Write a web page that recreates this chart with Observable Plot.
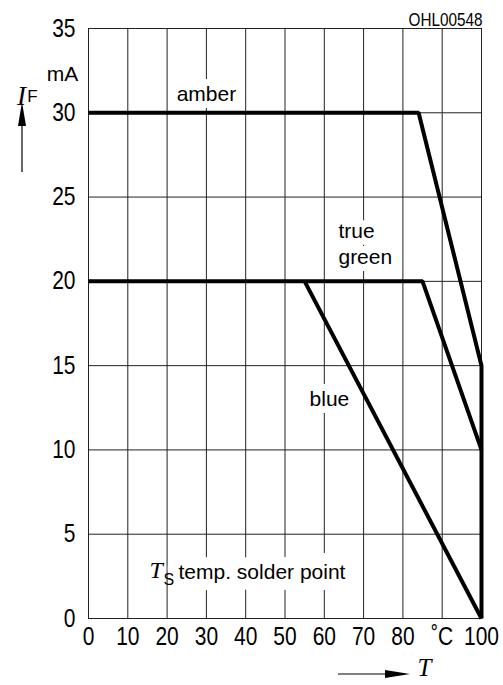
<!DOCTYPE html>
<html>
<head>
<meta charset="utf-8">
<script src="https://cdn.jsdelivr.net/npm/d3@7"></script>
<script src="https://cdn.jsdelivr.net/npm/@observablehq/plot@0.6"></script>
<style>
  html, body { margin: 0; padding: 0; background: #fff; }
  #chart { position: relative; width: 503px; height: 685px; }
</style>
</head>
<body>
<div id="chart"></div>
<script>
// ---- data ----
const xTicks = [0, 10, 20, 30, 40, 50, 60, 70, 80, 90, 100];
const yTicks = [0, 5, 10, 15, 20, 25, 30, 35];
const amberT = [0, 84, 100, 100];
const amberI = [30, 30, 15, 0];
const greenT = [0, 85, 100];
const greenI = [20, 20, 10];
const blueT = [55, 100];
const blueI = [20, 0];
const labelNames = ["amber", "true\ngreen", "blue"];
const labelT = [30, 63.6, 61.3];
const labelI = [31.1, 22.3, 13.0];
const labelAnchor = ["middle", "start", "middle"];

const FONT = "'Liberation Sans', Arial, sans-serif";
const SERIF = "'Liberation Serif', 'Times New Roman', serif";

const toRows = (xs, ys, name) => xs.map((x, i) => ({T: x, I: ys[i], series: name}));
const rows = [
  ...toRows(amberT, amberI, "amber"),
  ...toRows(greenT, greenI, "true green"),
  ...toRows(blueT, blueI, "blue")
];
const labels = labelNames.map((t, i) => ({text: t, T: labelT[i], I: labelI[i], anchor: labelAnchor[i]}));

const plot = Plot.plot({
  width: 503,
  height: 685,
  marginLeft: 88,
  marginRight: 22,
  marginTop: 28,
  marginBottom: 67,
  style: {fontFamily: FONT, fontSize: "21px", background: "#fff", color: "#000"},
  x: {domain: [0, 100], label: null},
  y: {domain: [0, 35], label: null},
  marks: [
    Plot.gridX(xTicks, {stroke: "#222", strokeOpacity: 1, strokeWidth: 1}),
    Plot.gridY(yTicks, {stroke: "#222", strokeOpacity: 1, strokeWidth: 1}),
    Plot.frame({stroke: "#222", strokeWidth: 1}),
    Plot.axisX(xTicks, {tickSize: 0, tickPadding: 9, tickFormat: d => d === 90 ? "˚C" : String(d), fontSize: 25, label: null}),
    Plot.axisY(yTicks, {tickSize: 0, tickPadding: 13, fontSize: 25, label: null}),
    // curve labels with white background (interrupting the grid)
    Plot.text(labels.filter(d => d.anchor === "middle"), {x: "T", y: "I", text: "text", textAnchor: "middle", fill: "#000", stroke: "#fff", strokeWidth: 14, fontSize: 21}),
    Plot.text(labels.filter(d => d.anchor === "start"), {x: "T", y: "I", text: "text", textAnchor: "start", lineHeight: 1.25, fill: "#000", stroke: "#fff", strokeWidth: 14, fontSize: 21}),
    // T_S temp. solder point
    Plot.text(["temp. solder point"], {frameAnchor: "bottom-left", dx: 90, dy: -40, textAnchor: "start", fill: "#000", stroke: "#fff", strokeWidth: 22, fontSize: 21}),
    Plot.text(["T"], {frameAnchor: "bottom-left", dx: 61, dy: -41, textAnchor: "start", fontFamily: SERIF, fontStyle: "italic", fontSize: 24, fill: "#000"}),
    Plot.text(["S"], {frameAnchor: "bottom-left", dx: 75, dy: -34, textAnchor: "start", fontSize: 16, fill: "#000"}),
    // curves
    Plot.line(rows, {x: "T", y: "I", z: "series", stroke: "#000", strokeWidth: 4, strokeLinejoin: "miter", strokeLinecap: "butt"}),
    // axis annotation texts
    Plot.text(["mA"], {frameAnchor: "top-left", dx: -26, dy: 38, textAnchor: "middle", fontSize: 21, fill: "#000"}),
    Plot.text(["I"], {frameAnchor: "top-left", dx: -67, dy: 57, textAnchor: "middle", fontFamily: SERIF, fontStyle: "italic", fontSize: 27, fill: "#000"}),
    Plot.text(["F"], {frameAnchor: "top-left", dx: -56, dy: 61, textAnchor: "middle", fontSize: 17, fill: "#000"}),
    Plot.text(["OHL00548"], {frameAnchor: "top-right", dx: 1, dy: -15, textAnchor: "end", fontSize: 18, fill: "#000"}),
    Plot.text(["T"], {frameAnchor: "bottom-right", dx: -57, dy: 57, textAnchor: "middle", fontFamily: SERIF, fontStyle: "italic", fontSize: 25, fill: "#000"})
  ]
});

document.getElementById("chart").appendChild(plot);

const svg = d3.select(plot);
// narrow the tall tick digits like the reference's condensed face
function condense(el, s) {
  const bb = el.getBBox();
  const anchor = getComputedStyle(el).textAnchor;
  const f = anchor === "middle" ? 0.5 : anchor === "end" ? 1 : 0;
  const ax = bb.x + bb.width * f;
  const t = el.getAttribute("transform") || "";
  el.setAttribute("transform", `${t} translate(${ax},0) scale(${s},1) translate(${-ax},0)`.trim());
}
svg.selectAll("text").filter(function () {
  return /^(\d+|˚C)$/.test(this.textContent.trim());
}).each(function () { condense(this, 0.84); });
svg.selectAll("text").filter(function () { return this.textContent === "OHL00548"; }).each(function () { condense(this, 0.85); });

// decorative arrows next to the axis symbols
const g = svg.append("g").attr("fill", "#000").attr("stroke", "#000");
g.append("line").attr("x1", 22).attr("x2", 22).attr("y1", 172).attr("y2", 122).attr("stroke-width", 1.2);
g.append("path").attr("d", "M22,102 L18,126 L26,126 Z").attr("stroke", "none");
g.append("line").attr("x1", 338).attr("x2", 388).attr("y1", 674).attr("y2", 674).attr("stroke-width", 1.2);
g.append("path").attr("d", "M410,674 L385,670 L385,678 Z").attr("stroke", "none");
</script>
</body>
</html>
